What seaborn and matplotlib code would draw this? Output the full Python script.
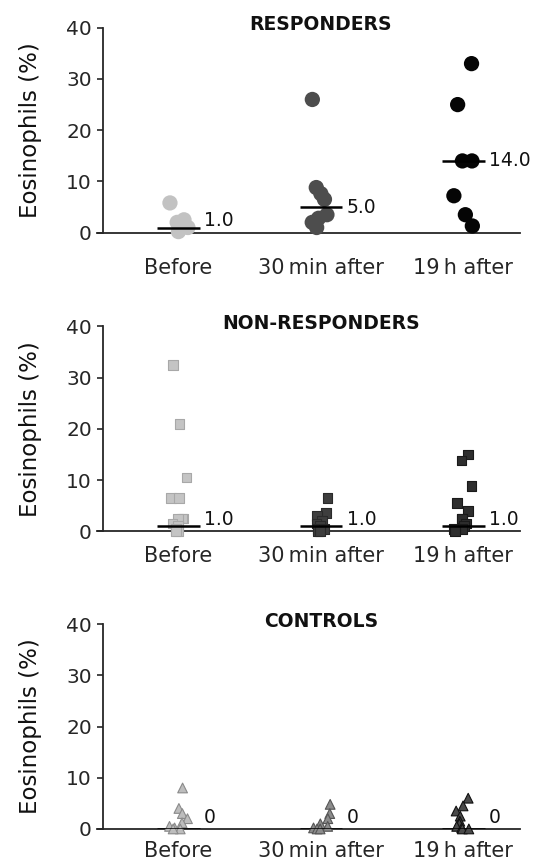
import numpy as np
import pandas as pd
import matplotlib
matplotlib.use('Agg')
import matplotlib.pyplot as plt
import seaborn as sns

times = ['Before', '30\u2009min after', '19\u2009h after']

resp_before = [5.8, 2.5, 2.0, 1.5, 1.0, 0.5, 0.2]
resp_30min = [26.0, 8.8, 7.6, 6.5, 3.5, 2.8, 2.0, 1.0]
resp_19h = [33.0, 25.0, 14.0, 14.0, 7.2, 3.5, 1.3]
resp_medians = [1.0, 5.0, 14.0]

nonresp_before = [32.5, 21.0, 10.5, 6.5, 6.5, 2.5, 2.5, 2.5, 1.5, 1.0, 0.5, 0.0, 0.0]
nonresp_30min = [6.5, 3.5, 3.0, 2.0, 1.5, 1.0, 0.5, 0.5, 0.0, 0.0]
nonresp_19h = [15.0, 13.8, 8.8, 5.5, 4.0, 2.5, 2.5, 1.5, 1.0, 0.5, 0.5, 0.0]
nonresp_medians = [1.0, 1.0, 1.0]

ctrl_before = [8.0, 4.0, 3.0, 2.0, 1.2, 0.5, 0.2, 0.0, 0.0]
ctrl_30min = [4.8, 3.0, 2.0, 1.0, 0.5, 0.2, 0.0, 0.0]
ctrl_19h = [6.0, 4.5, 3.5, 2.5, 1.5, 1.0, 0.5, 0.2, 0.0, 0.0]
ctrl_medians = [0, 0, 0]

median_labels = {
    'RESPONDERS': ['1.0', '5.0', '14.0'],
    'NON-RESPONDERS': ['1.0', '1.0', '1.0'],
    'CONTROLS': ['0', '0', '0'],
}


def long_table(groups):
    rows = []
    for t, vals in zip(times, groups):
        for v in vals:
            rows.append({'time': t, 'eos': v})
    return pd.DataFrame(rows)


def draw_panel(ax, groups, medians, title, marker, size, fills, edges, pad):
    df = long_table(groups)
    sns.stripplot(data=df, x='time', y='eos', order=times, hue='time',
                  palette=dict(zip(times, fills)), marker=marker, size=size,
                  jitter=0.07, linewidth=0, legend=False, ax=ax, zorder=3)
    for c, ec in zip(ax.collections, edges):
        c.set_clip_on(False)
        if ec is not None:
            c.set_edgecolor(ec)
            c.set_linewidth(0.8)

    for i, (m, lab) in enumerate(zip(medians, median_labels[title])):
        ax.hlines(m, i - 0.15, i + 0.15, color='black', lw=1.8, zorder=5)
        ax.text(i + 0.18, max(m, 2.3), lab, ha='left', va='center',
                fontsize=13.5, color='#111111')

    ax.text(1.0, 39.5, title, ha='center', va='baseline', fontsize=13.5,
            fontweight='bold', color='#111111', clip_on=False)

    ax.set_xlim(-0.57, 2.4)
    ax.set_ylim(0, 40)
    ax.set_yticks([0, 10, 20, 30, 40])
    ax.spines['left'].set_position(('data', -0.53))
    ax.spines['left'].set_linewidth(1.3)
    ax.spines['bottom'].set_linewidth(1.3)
    sns.despine(ax=ax)
    ax.set_xlabel('')
    ax.set_ylabel('Eosinophils (%)', fontsize=16.5, labelpad=17, color='#111111')
    ax.tick_params(axis='y', length=4, width=1.2, pad=4, labelsize=14.5)
    ax.tick_params(axis='x', length=0, pad=pad, labelsize=15)


sns.set_style('ticks')
plt.rcParams['font.family'] = ['DejaVu Sans']
np.random.seed(7)

fig = plt.figure(figsize=(5.37, 8.68), dpi=100)
ax1 = fig.add_axes([0.181, 0.732, 0.788, 0.236])
ax2 = fig.add_axes([0.181, 0.388, 0.788, 0.236])
ax3 = fig.add_axes([0.181, 0.045, 0.788, 0.236])

draw_panel(ax1, [resp_before, resp_30min, resp_19h], resp_medians, 'RESPONDERS',
           'o', 11, ['#c2c2c2', '#4d4d4d', '#050505'], [None, None, None], 18)
draw_panel(ax2, [nonresp_before, nonresp_30min, nonresp_19h], nonresp_medians,
           'NON-RESPONDERS', 's', 7, ['#c4c4c4', '#3e3e3e', '#2e2e2e'],
           ['#a8a8a8', '#2a2a2a', '#1a1a1a'], 11)
draw_panel(ax3, [ctrl_before, ctrl_30min, ctrl_19h], ctrl_medians, 'CONTROLS',
           '^', 7, ['#bdbdbd', '#8c8c8c', '#4a4a4a'],
           ['#8a8a8a', '#555555', '#111111'], 9)

fig.savefig('out.png', dpi=100)
